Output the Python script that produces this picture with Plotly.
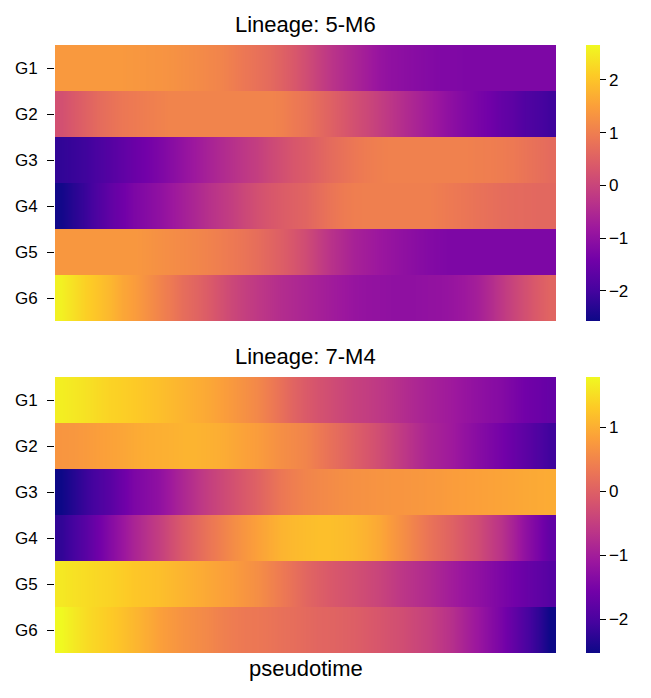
import plotly.graph_objects as go

genes = ["G1", "G2", "G3", "G4", "G5", "G6"]

# Lineage 5-M6 (41 samples along pseudotime)
l1_g1 = [1.40,1.40,1.40,1.40,1.40,1.40,1.38,1.35,1.33,1.30,1.25,1.20,1.14,1.09,0.99,0.88,0.78,0.67,0.52,0.36,0.15,-0.06,-0.27,-0.43,-0.58,-0.74,-0.90,-1.00,-1.05,-1.11,-1.16,-1.21,-1.21,-1.24,-1.26,-1.26,-1.26,-1.26,-1.26,-1.26,-1.26]
l1_g2 = [0.20,0.36,0.52,0.67,0.78,0.88,0.93,0.99,1.04,1.09,1.09,1.09,1.09,1.09,1.09,1.09,1.09,1.09,1.04,0.93,0.83,0.67,0.52,0.36,0.20,0.05,-0.11,-0.27,-0.43,-0.58,-0.74,-0.90,-1.05,-1.18,-1.31,-1.42,-1.58,-1.68,-1.84,-1.94,-2.05]
l1_g3 = [-2.20,-2.13,-2.05,-1.92,-1.79,-1.65,-1.52,-1.39,-1.26,-1.11,-0.95,-0.79,-0.64,-0.50,-0.37,-0.24,-0.11,0.05,0.18,0.31,0.41,0.54,0.67,0.78,0.88,0.96,1.01,1.04,1.04,1.04,1.04,1.04,1.04,1.04,1.01,0.99,0.96,0.91,0.83,0.75,0.67]
l1_g4 = [-2.52,-2.31,-2.10,-1.86,-1.63,-1.45,-1.26,-1.13,-1.00,-0.84,-0.69,-0.53,-0.37,-0.24,-0.11,0.05,0.20,0.31,0.41,0.49,0.57,0.70,0.83,0.93,0.99,1.01,1.01,1.01,1.01,1.01,1.01,0.96,0.91,0.86,0.80,0.75,0.70,0.67,0.65,0.62,0.62]
l1_g5 = [1.38,1.38,1.38,1.38,1.38,1.38,1.38,1.33,1.27,1.22,1.17,1.12,1.06,0.99,0.91,0.83,0.72,0.59,0.46,0.31,0.12,-0.11,-0.32,-0.48,-0.64,-0.74,-0.84,-0.92,-1.00,-1.08,-1.16,-1.21,-1.26,-1.26,-1.26,-1.26,-1.26,-1.26,-1.26,-1.26,-1.26]
l1_g6 = [2.56,2.35,2.14,1.98,1.82,1.61,1.46,1.27,1.09,0.91,0.72,0.57,0.41,0.23,0.05,-0.09,-0.22,-0.32,-0.43,-0.50,-0.58,-0.66,-0.74,-0.82,-0.90,-0.95,-0.97,-1.00,-1.00,-1.00,-0.97,-0.95,-0.90,-0.82,-0.69,-0.48,-0.24,-0.01,0.20,0.41,0.57]

# Lineage 7-M4
l2_g1 = [1.68,1.62,1.55,1.47,1.40,1.36,1.31,1.25,1.19,1.12,1.06,0.99,0.93,0.84,0.75,0.65,0.54,0.39,0.23,0.06,-0.09,-0.20,-0.28,-0.37,-0.46,-0.52,-0.59,-0.67,-0.76,-0.85,-0.93,-1.00,-1.06,-1.15,-1.23,-1.30,-1.36,-1.47,-1.58,-1.64,-1.71]
l2_g2 = [0.71,0.73,0.77,0.82,0.86,0.90,0.95,0.99,1.01,1.03,1.06,1.06,1.03,0.99,0.93,0.86,0.80,0.71,0.62,0.56,0.49,0.36,0.23,0.11,-0.02,-0.15,-0.28,-0.43,-0.59,-0.74,-0.89,-0.97,-1.06,-1.19,-1.32,-1.43,-1.54,-1.67,-1.80,-1.95,-2.10]
l2_g3 = [-2.53,-2.34,-2.14,-1.99,-1.84,-1.64,-1.45,-1.34,-1.23,-1.04,-0.85,-0.67,-0.50,-0.37,-0.24,-0.11,0.02,0.17,0.32,0.41,0.49,0.54,0.58,0.62,0.65,0.67,0.69,0.71,0.71,0.73,0.75,0.77,0.80,0.82,0.84,0.86,0.88,0.90,0.93,0.95,0.97]
l2_g4 = [-2.23,-2.05,-1.84,-1.60,-1.36,-1.13,-0.89,-0.69,-0.50,-0.28,-0.07,0.11,0.28,0.43,0.58,0.71,0.84,0.95,1.06,1.12,1.16,1.19,1.19,1.16,1.12,1.03,0.93,0.77,0.62,0.45,0.28,0.15,0.02,-0.13,-0.28,-0.48,-0.67,-0.93,-1.23,-1.49,-1.75]
l2_g5 = [1.62,1.55,1.49,1.44,1.40,1.34,1.27,1.23,1.19,1.12,1.06,0.99,0.93,0.86,0.80,0.71,0.62,0.49,0.36,0.23,0.08,-0.02,-0.11,-0.18,-0.24,-0.33,-0.41,-0.52,-0.63,-0.71,-0.80,-0.91,-1.02,-1.13,-1.23,-1.34,-1.45,-1.56,-1.67,-1.77,-1.88]
l2_g6 = [1.79,1.64,1.49,1.40,1.31,1.21,1.10,0.97,0.84,0.75,0.67,0.60,0.54,0.45,0.39,0.34,0.32,0.28,0.23,0.19,0.13,0.08,0.06,0.02,-0.02,-0.09,-0.15,-0.22,-0.28,-0.37,-0.46,-0.59,-0.72,-0.91,-1.10,-1.30,-1.49,-1.73,-1.97,-2.23,-2.53]

l1_range = (-2.57, 2.66)
l2_range = (-2.53, 1.79)
l1_ticks = [-2, -1, 0, 1, 2]
l2_ticks = [-2, -1, 0, 1]
titles = ["Lineage: 5-M6", "Lineage: 7-M4"]

# page body has an 8px margin: figure is drawn 8px in from the window edge
OFF = 8
W, H = 651 - 2 * OFF, 698 - 2 * OFF
FONT = "Liberation Sans, Arial, sans-serif"


def px_x(p):
    return (p - OFF) / W


def px_y(p):
    return 1 - (p - OFF) / H


x_left, x_right = 55, 556
panels = [
    dict(rows=[l1_g1, l1_g2, l1_g3, l1_g4, l1_g5, l1_g6], rng=l1_range, ticks=l1_ticks, top=45, bot=321),
    dict(rows=[l2_g1, l2_g2, l2_g3, l2_g4, l2_g5, l2_g6], rng=l2_range, ticks=l2_ticks, top=377, bot=653),
]

fig = go.Figure()
layout = dict(
    width=W, height=H,
    margin=dict(l=0, r=0, t=0, b=0),
    paper_bgcolor="white", plot_bgcolor="white",
    font=dict(family=FONT, color="black"),
    annotations=[],
)

for i, p in enumerate(panels):
    sfx = "" if i == 0 else str(i + 1)
    ca = "coloraxis" + sfx
    n = len(p["rows"][0])
    for k, row in enumerate(p["rows"]):
        fig.add_trace(go.Heatmap(
            z=[row, row],
            x=list(range(n)),
            y=[k - 0.25, k + 0.25],
            coloraxis=ca,
            zsmooth="best",
            xaxis="x" + sfx,
            yaxis="y" + sfx,
            hoverinfo="skip",
        ))
    layout[ca] = dict(
        colorscale="Plasma", cmin=p["rng"][0], cmax=p["rng"][1],
        colorbar=dict(
            x=px_x(586), xanchor="left", xpad=0,
            y=px_y(p["bot"]), yanchor="bottom", ypad=0,
            len=(p["bot"] - p["top"]) / H, lenmode="fraction",
            thickness=14, thicknessmode="pixels",
            outlinewidth=0,
            tickmode="array", tickvals=p["ticks"],
            ticks="outside", ticklen=6, tickwidth=1.3, tickcolor="black",
            tickprefix=" ",
            tickfont=dict(family=FONT, size=17, color="black"),
        ),
    )
    layout["xaxis" + sfx] = dict(
        domain=[px_x(x_left), px_x(x_right)], range=[-0.5, n - 0.5],
        showticklabels=False, ticks="", showgrid=False, zeroline=False, showline=False,
        anchor="y" + sfx, automargin=False,
    )
    layout["yaxis" + sfx] = dict(
        domain=[px_y(p["bot"]), px_y(p["top"])], range=[len(genes) - 0.5, -0.5],
        tickmode="array", tickvals=list(range(len(genes))), ticktext=genes,
        ticks="outside", ticklen=7, tickwidth=1.3, tickcolor="black",
        ticklabelstandoff=6,
        tickfont=dict(family=FONT, size=17, color="black"),
        showgrid=False, zeroline=False, showline=False,
        anchor="x" + sfx, automargin=False,
    )
    layout["annotations"].append(dict(
        text=titles[i], x=px_x((x_left + x_right) / 2), y=px_y(p["top"] - 20.5),
        xref="paper", yref="paper", xanchor="center", yanchor="middle", showarrow=False,
        font=dict(family=FONT, size=22, color="black"),
    ))

layout["annotations"].append(dict(
    text="pseudotime", x=px_x((x_left + x_right) / 2), y=px_y(668),
    xref="paper", yref="paper", xanchor="center", yanchor="middle", showarrow=False,
    font=dict(family=FONT, size=22, color="black"),
))

fig.update_layout(**layout)
fig.write_html("out.html")
